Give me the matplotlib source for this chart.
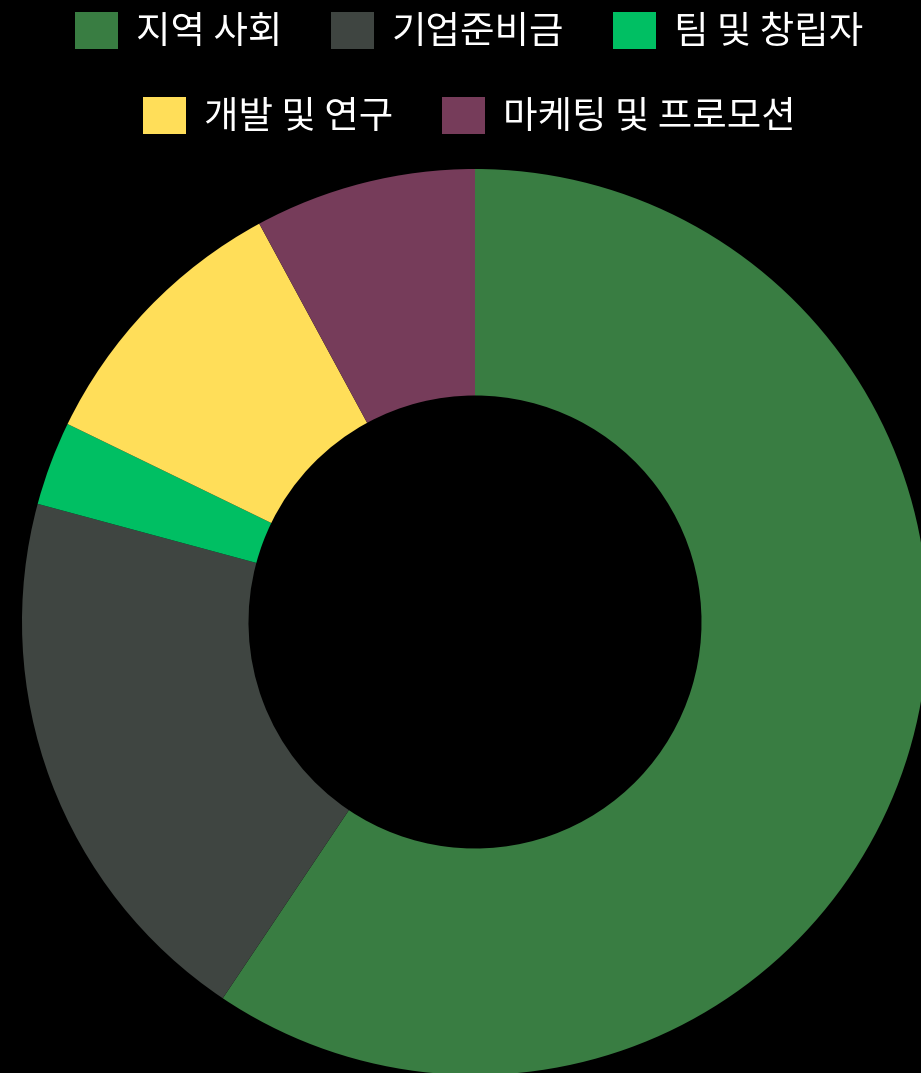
import matplotlib
matplotlib.use('Agg')
import matplotlib.pyplot as plt

plt.rcParams['font.family'] = ['Noto Sans CJK KR', 'DejaVu Sans']

labels = ['지역 사회', '기업준비금', '팀 및 창립자', '개발 및 연구', '마케팅 및 프로모션']
values = [59.4, 19.8, 3.0, 9.9, 7.9]
colors = ['#397D42', '#3F4541', '#00BF63', '#FFDE59', '#763C5A']

W, H = 921, 1073
cx, cy, r = 475, 622, 453

fig = plt.figure(figsize=(W / 100, H / 100), dpi=100, facecolor='black')
ax = fig.add_axes([0, 0, 1, 1])
ax.set_facecolor('black')

wedges, _ = ax.pie(values, colors=colors, startangle=90, counterclock=False,
                   radius=1, wedgeprops=dict(width=0.5, linewidth=0))

ax.set_xlim(-cx / r, (W - cx) / r)
ax.set_ylim(-(H - cy) / r, cy / r)
ax.set_aspect('auto')
ax.axis('off')

common = dict(frameon=False, fontsize=27, labelcolor='white',
              handlelength=1.15, handleheight=1.15, handletextpad=0.48,
              columnspacing=1.3, borderaxespad=0, borderpad=0)
fig.legend(wedges[:3], labels[:3], loc='center', ncol=3,
           bbox_to_anchor=(469 / W, 1 - 32 / H), **common)
fig.legend(wedges[3:], labels[3:], loc='center', ncol=2,
           bbox_to_anchor=(469 / W, 1 - 117 / H), **common)

fig.savefig('out.png', dpi=100, facecolor='black')
